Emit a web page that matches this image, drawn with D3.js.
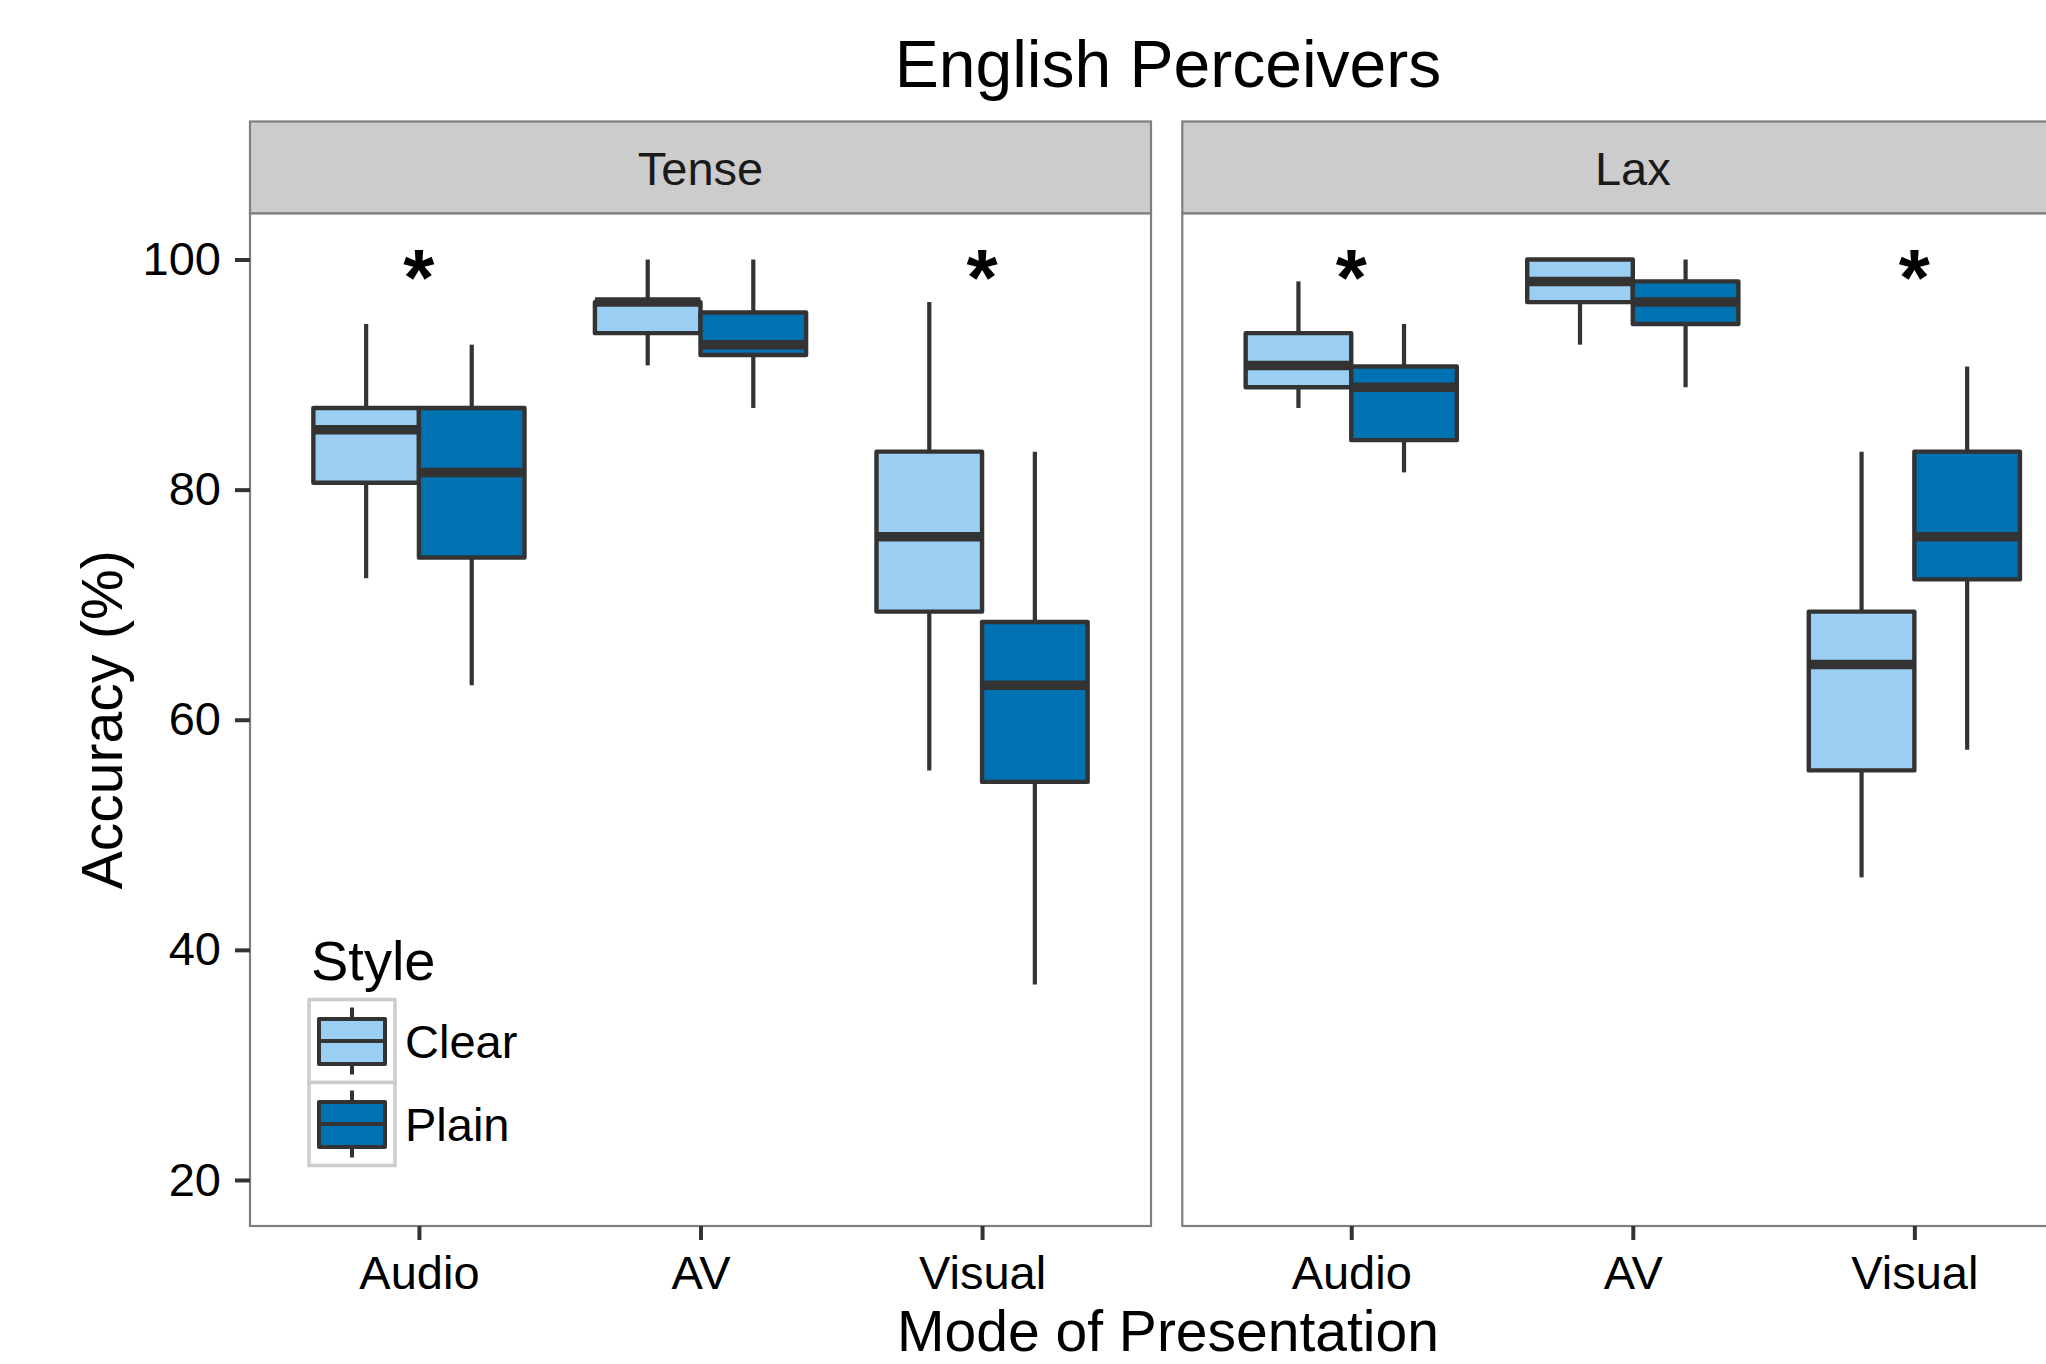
<!DOCTYPE html>
<html>
<head>
<meta charset="utf-8">
<script src="https://cdn.jsdelivr.net/npm/d3@7"></script>
<style>
  html, body { margin: 0; padding: 0; background: #fff; }
  svg { display: block; font-family: "Liberation Sans", Arial, Helvetica, sans-serif; }
</style>
</head>
<body>
<svg id="chart" width="2046" height="1364"></svg>
<script>
// Accuracy (%) box plots by mode of presentation, speaking style and vowel type
const facets = ["Tense", "Lax"];
const modes = ["Audio", "AV", "Visual"];
const styles = ["Clear", "Plain"];
const yTicks = [20, 40, 60, 80, 100];

// five-number summaries per mode: [lower whisker, Q1, median, Q3, upper whisker]
const tenseClear = [
  [72.3, 80.6, 85.2, 87.1, 94.4],
  [90.8, 93.6, 96.3, 96.3, 100],
  [55.6, 69.4, 75.9, 83.3, 96.3]
];
const tensePlain = [
  [63.0, 74.1, 81.5, 87.1, 92.6],
  [87.1, 91.7, 92.6, 95.4, 100],
  [37.0, 54.6, 63.0, 68.5, 83.3]
];
const laxClear = [
  [87.1, 88.9, 90.8, 93.6, 98.1],
  [92.6, 96.3, 98.1, 100, 100],
  [46.3, 55.6, 64.8, 69.4, 83.3]
];
const laxPlain = [
  [81.5, 84.3, 88.9, 90.7, 94.4],
  [88.9, 94.4, 96.3, 98.1, 100],
  [57.4, 72.2, 75.9, 83.3, 90.7]
];
// modes with a significant Clear/Plain difference
const tenseStars = ["Audio", "Visual"];
const laxStars = ["Audio", "Visual"];
const starValue = 100;

const summaries = {
  Tense: { Clear: tenseClear, Plain: tensePlain },
  Lax: { Clear: laxClear, Plain: laxPlain }
};
const stars = { Tense: tenseStars, Lax: laxStars };

const fills = { Clear: "#9ACFF3", Plain: "#0072B2" };
const ink = "#333333";

const svg = d3.select("#chart");

const panelTop = 213.5, panelBottom = 1226;
const stripTop = 121.5;
const panelW = 901;
const panelX = { Tense: 250, Lax: 1182.3 };

const y = d3.scaleLinear().domain([16, 104]).range([panelBottom, panelTop]);
const x = d3.scalePoint().domain(modes).range([0, panelW]).padding(0.6);
const boxW = x.step() * 0.375;
const dodge = d3.scaleBand().domain(styles).range([-boxW, boxW]).padding(0);

// title
svg.append("text")
  .attr("x", 1168).attr("y", 87)
  .attr("text-anchor", "middle")
  .attr("font-size", 66).attr("fill", "#000")
  .text("English Perceivers");

facets.forEach(facet => {
  const g = svg.append("g").attr("transform", `translate(${panelX[facet]},0)`);

  // strip
  g.append("rect")
    .attr("x", 0).attr("y", stripTop)
    .attr("width", panelW).attr("height", panelTop - stripTop)
    .attr("fill", "#CCCCCC").attr("stroke", "#7F7F7F").attr("stroke-width", 2.2);
  g.append("text")
    .attr("x", panelW / 2).attr("y", 185)
    .attr("text-anchor", "middle").attr("font-size", 47).attr("fill", "#1A1A1A")
    .text(facet);

  // panel background
  g.append("rect")
    .attr("x", 0).attr("y", panelTop)
    .attr("width", panelW).attr("height", panelBottom - panelTop)
    .attr("fill", "#fff");

  // boxes
  styles.forEach(style => {
    summaries[facet][style].forEach((s, i) => {
      const [lo, q1, med, q3, hi] = s;
      const x0 = x(modes[i]) + dodge(style);
      const w = dodge.bandwidth();
      const cx = x0 + w / 2;
      const bg = g.append("g");
      bg.append("line")
        .attr("x1", cx).attr("x2", cx).attr("y1", y(hi)).attr("y2", y(q3))
        .attr("stroke", ink).attr("stroke-width", 4.2);
      bg.append("line")
        .attr("x1", cx).attr("x2", cx).attr("y1", y(q1)).attr("y2", y(lo))
        .attr("stroke", ink).attr("stroke-width", 4.2);
      bg.append("rect")
        .attr("x", x0).attr("y", y(q3))
        .attr("width", w).attr("height", y(q1) - y(q3))
        .attr("fill", fills[style]).attr("stroke", ink).attr("stroke-width", 4.4)
        .attr("stroke-linejoin", "round");
      bg.append("line")
        .attr("x1", x0).attr("x2", x0 + w).attr("y1", y(med)).attr("y2", y(med))
        .attr("stroke", ink).attr("stroke-width", 9.5);
    });
  });

  // significance markers
  g.selectAll("text.star")
    .data(stars[facet])
    .join("text")
    .attr("class", "star")
    .attr("x", d => x(d))
    .attr("y", y(starValue))
    .attr("dy", "0.57em")
    .attr("text-anchor", "middle")
    .attr("font-size", 80).attr("font-weight", "bold").attr("fill", "#000")
    .text("*");

  // panel border
  g.append("rect")
    .attr("x", 0).attr("y", panelTop)
    .attr("width", panelW).attr("height", panelBottom - panelTop)
    .attr("fill", "none").attr("stroke", "#7F7F7F").attr("stroke-width", 2.2);

  // x axis
  const xa = g.append("g")
    .attr("transform", `translate(0,${panelBottom})`)
    .call(d3.axisBottom(x).tickSize(14).tickPadding(15.5));
  xa.select(".domain").remove();
  xa.selectAll(".tick line").attr("stroke", ink).attr("stroke-width", 4);
  xa.selectAll(".tick text")
    .attr("font-size", 47).attr("fill", "#000")
    .attr("font-family", "'Liberation Sans', Arial, Helvetica, sans-serif");
});

// y axis (left panel only)
const ya = svg.append("g")
  .attr("transform", `translate(${panelX.Tense},0)`)
  .call(d3.axisLeft(y).tickValues(yTicks).tickSize(15).tickPadding(14));
ya.select(".domain").remove();
ya.selectAll(".tick line").attr("stroke", ink).attr("stroke-width", 4);
ya.selectAll(".tick text")
  .attr("font-size", 47).attr("fill", "#000")
  .attr("font-family", "'Liberation Sans', Arial, Helvetica, sans-serif");

// axis titles
svg.append("text")
  .attr("x", 1168).attr("y", 1351)
  .attr("text-anchor", "middle").attr("font-size", 57).attr("fill", "#000")
  .text("Mode of Presentation");
svg.append("text")
  .attr("transform", `translate(122,${(panelTop + panelBottom) / 2}) rotate(-90)`)
  .attr("text-anchor", "middle").attr("font-size", 57).attr("fill", "#000")
  .text("Accuracy (%)");

// legend
const legend = svg.append("g");
legend.append("text")
  .attr("x", 311).attr("y", 980)
  .attr("font-size", 56).attr("fill", "#000")
  .text("Style");
const keyX = 309, keyY = 999.5, keyW = 86, keyH = 83;
styles.forEach((style, i) => {
  const ky = keyY + i * keyH;
  const cx = keyX + keyW / 2;
  const k = legend.append("g");
  k.append("rect")
    .attr("x", keyX).attr("y", ky).attr("width", keyW).attr("height", keyH)
    .attr("fill", "#fff").attr("stroke", "#CCCCCC").attr("stroke-width", 3.5);
  k.append("line")
    .attr("x1", cx).attr("x2", cx).attr("y1", ky + 8).attr("y2", ky + keyH - 8)
    .attr("stroke", ink).attr("stroke-width", 4);
  k.append("rect")
    .attr("x", keyX + 10).attr("y", ky + 19.5).attr("width", keyW - 20).attr("height", 45)
    .attr("fill", fills[style]).attr("stroke", ink).attr("stroke-width", 4)
    .attr("stroke-linejoin", "round");
  k.append("line")
    .attr("x1", keyX + 10).attr("x2", keyX + keyW - 10)
    .attr("y1", ky + keyH / 2).attr("y2", ky + keyH / 2)
    .attr("stroke", ink).attr("stroke-width", 4);
  legend.append("text")
    .attr("x", 405).attr("y", ky + keyH / 2 + 17)
    .attr("font-size", 47).attr("fill", "#000")
    .text(style);
});
</script>
</body>
</html>
